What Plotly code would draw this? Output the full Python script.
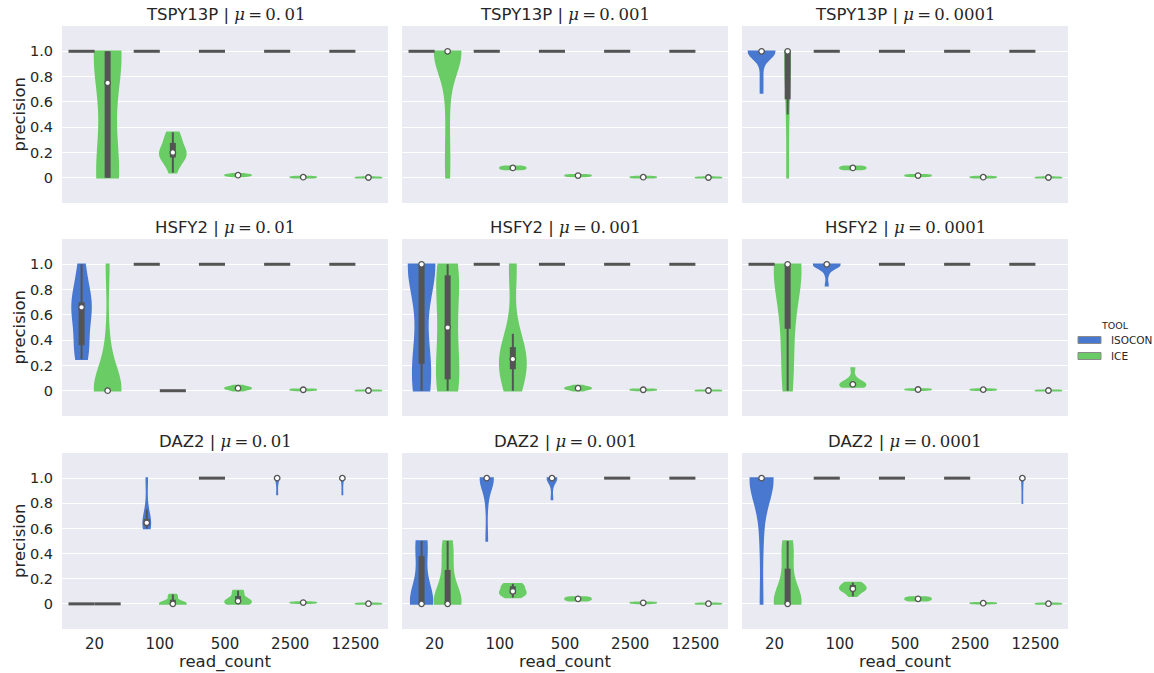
import numpy as np
import plotly.graph_objects as go

# ---------------- data ----------------
read_counts = ["20", "100", "500", "2500", "12500"]
tools = ["ISOCON", "ICE"]
genes = ["TSPY13P", "HSFY2", "DAZ2"]
mutation_rates = ["0.01", "0.001", "0.0001"]

# precision observations, one list per read_count (20, 100, 500, 2500, 12500)
tspy13p_mu01_isocon = [[1.0], [1.0], [1.0], [1.0], [1.0]]
tspy13p_mu01_ice = [
    [0.0, 0.0, 0.0, 0.0, 0.5, 1.0, 1.0, 1.0, 1.0, 1.0],
    [0.04, 0.12, 0.15, 0.17, 0.19, 0.20, 0.21, 0.25, 0.30, 0.33, 0.36],
    [0.010, 0.015, 0.018, 0.020, 0.022, 0.025, 0.030],
    [0.000, 0.002, 0.004, 0.005, 0.007, 0.010],
    [0.000, 0.000, 0.001, 0.002, 0.003, 0.005],
]
tspy13p_mu001_isocon = [[1.0], [1.0], [1.0], [1.0], [1.0]]
tspy13p_mu001_ice = [
    [0.0, 0.1, 0.3, 0.55, 0.75] + [1.0] * 16,
    [0.065, 0.070, 0.075, 0.080, 0.085, 0.090],
    [0.010, 0.013, 0.016, 0.018, 0.020, 0.024],
    [0.000, 0.002, 0.004, 0.005, 0.007, 0.010],
    [0.000, 0.000, 0.001, 0.002, 0.003, 0.005],
]
tspy13p_mu0001_isocon = [
    [0.67, 0.78, 0.90, 0.95] + [1.0] * 13,
    [1.0], [1.0], [1.0], [1.0],
]
tspy13p_mu0001_ice = [
    [0.0, 0.0, 0.5, 0.62, 0.65, 0.85] + [1.0] * 7,
    [0.065, 0.070, 0.075, 0.080, 0.085, 0.090],
    [0.010, 0.013, 0.016, 0.018, 0.020, 0.024],
    [0.000, 0.002, 0.004, 0.005, 0.007, 0.010],
    [0.000, 0.000, 0.001, 0.002, 0.003, 0.005],
]

hsfy2_mu01_isocon = [
    [0.25, 0.28, 0.33, 0.36, 0.50, 0.58, 0.66, 0.67, 0.68, 0.70, 0.78, 0.90, 1.0],
    [1.0], [1.0], [1.0], [1.0],
]
hsfy2_mu01_ice = [
    [0.0] * 10 + [0.15, 0.35, 1.0],
    [0.0],
    [0.000, 0.010, 0.015, 0.020, 0.020, 0.025, 0.030, 0.040],
    [0.002, 0.005, 0.007, 0.008, 0.010, 0.012],
    [0.000, 0.000, 0.001, 0.002, 0.003, 0.004],
]
hsfy2_mu001_isocon = [
    [0.0, 0.0, 0.05, 0.20, 0.25, 0.30] + [1.0] * 8,
    [1.0], [1.0], [1.0], [1.0],
]
hsfy2_mu001_ice = [
    [0.0, 0.0, 0.06, 0.10, 0.25, 0.45, 0.55, 0.70, 0.90, 0.95, 1.0, 1.0],
    [0.0, 0.05, 0.14, 0.18, 0.22, 0.24, 0.26, 0.28, 0.31, 0.45, 0.95, 1.0],
    [0.000, 0.010, 0.015, 0.020, 0.020, 0.025, 0.030, 0.040],
    [0.002, 0.005, 0.007, 0.008, 0.010, 0.012],
    [0.000, 0.000, 0.001, 0.002, 0.003, 0.004],
]
hsfy2_mu0001_isocon = [
    [1.0],
    [0.83, 0.93, 0.97] + [1.0] * 10,
    [1.0], [1.0], [1.0],
]
hsfy2_mu0001_ice = [
    [0.0, 0.20, 0.49, 0.70, 1.0, 1.0, 1.0, 1.0, 1.0],
    [0.030, 0.035, 0.040, 0.045, 0.050, 0.050, 0.055, 0.060, 0.100, 0.180],
    [0.004, 0.007, 0.009, 0.010, 0.011, 0.014],
    [0.004, 0.006, 0.008, 0.009, 0.010, 0.013],
    [0.000, 0.000, 0.001, 0.002, 0.003, 0.004],
]

daz2_mu01_isocon = [
    [0.0],
    [0.60, 0.61, 0.62, 0.63, 0.64, 0.65, 0.66, 0.68, 0.75, 1.0],
    [1.0],
    [0.87, 1.0, 1.0, 1.0, 1.0, 1.0, 1.0],
    [0.87, 1.0, 1.0, 1.0, 1.0, 1.0, 1.0],
]
daz2_mu01_ice = [
    [0.0],
    [0.0, 0.0, 0.0, 0.0, 0.0, 0.0, 0.01, 0.04, 0.06, 0.075],
    [0.0, 0.005, 0.01, 0.015, 0.02, 0.025, 0.04, 0.07, 0.10, 0.105],
    [0.006, 0.008, 0.010, 0.010, 0.012, 0.015],
    [0.000, 0.000, 0.001, 0.002, 0.003, 0.004],
]
daz2_mu001_isocon = [
    [0.0, 0.0, 0.0, 0.0, 0.0, 0.12, 0.38, 0.50, 0.50],
    [0.50, 0.82, 0.93] + [1.0] * 10,
    [0.83, 0.95] + [1.0] * 8,
    [1.0], [1.0],
]
daz2_mu001_ice = [
    [0.0, 0.0, 0.0, 0.0, 0.0, 0.0, 0.08, 0.20, 0.34, 0.45, 0.50],
    [0.05, 0.07, 0.08, 0.09, 0.10, 0.12, 0.14, 0.15, 0.16],
    [0.025, 0.030, 0.035, 0.040, 0.045, 0.050, 0.055],
    [0.003, 0.006, 0.008, 0.009, 0.010, 0.012],
    [0.000, 0.000, 0.001, 0.002, 0.003, 0.004],
]
daz2_mu0001_isocon = [
    [0.0, 0.5, 0.8] + [1.0] * 10,
    [1.0], [1.0], [1.0],
    [0.80, 1.0, 1.0, 1.0, 1.0, 1.0, 1.0],
]
daz2_mu0001_ice = [
    [0.0, 0.0, 0.0, 0.0, 0.0, 0.0, 0.08, 0.20, 0.36, 0.45, 0.50],
    [0.06, 0.09, 0.11, 0.12, 0.12, 0.13, 0.15, 0.16, 0.17],
    [0.025, 0.030, 0.035, 0.040, 0.045, 0.050, 0.055],
    [0.002, 0.004, 0.005, 0.006, 0.007, 0.009],
    [0.000, 0.000, 0.001, 0.002, 0.003, 0.004],
]

panels = {
    ("TSPY13P", "0.01"): (tspy13p_mu01_isocon, tspy13p_mu01_ice),
    ("TSPY13P", "0.001"): (tspy13p_mu001_isocon, tspy13p_mu001_ice),
    ("TSPY13P", "0.0001"): (tspy13p_mu0001_isocon, tspy13p_mu0001_ice),
    ("HSFY2", "0.01"): (hsfy2_mu01_isocon, hsfy2_mu01_ice),
    ("HSFY2", "0.001"): (hsfy2_mu001_isocon, hsfy2_mu001_ice),
    ("HSFY2", "0.0001"): (hsfy2_mu0001_isocon, hsfy2_mu0001_ice),
    ("DAZ2", "0.01"): (daz2_mu01_isocon, daz2_mu01_ice),
    ("DAZ2", "0.001"): (daz2_mu001_isocon, daz2_mu001_ice),
    ("DAZ2", "0.0001"): (daz2_mu0001_isocon, daz2_mu0001_ice),
}

y_tickvals = [0.0, 0.2, 0.4, 0.6, 0.8, 1.0]
y_ticktext = ["0", "0.2", "0.4", "0.6", "0.8", "1.0"]

# ---------------- style / layout ----------------
W, H = 1154, 673
COLORS = {"ISOCON": "#4878CF", "ICE": "#6ACC65"}
GRAY = "#545454"
TEXT = "#262626"
BG = "#EAEAF2"
FONT = "DejaVu Sans"
HALF = 0.2  # half width of one hue violin in category units
OFFSET = {"ISOCON": -0.2, "ICE": 0.2}

col_px = [(62, 388), (402, 728), (742, 1068)]
row_px = [(26, 203), (239, 416), (453, 629)]


def px_x(p):
    return p / W


def px_y(p):
    return 1 - p / H


def scott_bw(vals):
    return vals.std(ddof=1) * len(vals) ** -0.2


def kde_peak(vals, bw):
    grid = np.linspace(vals.min(), vals.max(), 200)
    z = (grid[:, None] - vals[None, :]) / bw
    dens = np.exp(-0.5 * z ** 2).sum(axis=1) / (len(vals) * bw * np.sqrt(2 * np.pi))
    return dens.max()


fig = go.Figure()
annotations = []
shapes = []

for r, gene in enumerate(genes):
    for c, mu in enumerate(mutation_rates):
        k = r * 3 + c + 1
        xa = "x" if k == 1 else f"x{k}"
        ya = "y" if k == 1 else f"y{k}"
        iso, ice = panels[(gene, mu)]
        single_x, single_y = [], []
        wx, wy, bx, by, mx, my = [], [], [], [], [], []
        for i in range(len(read_counts)):
            # area scaling within each read_count level (seaborn scale="area")
            entries = []
            for tool, series in (("ISOCON", iso), ("ICE", ice)):
                vals = np.asarray(series[i], dtype=float)
                if np.unique(vals).size == 1:
                    entries.append((tool, vals, None, None))
                else:
                    bw = scott_bw(vals)
                    entries.append((tool, vals, bw, kde_peak(vals, bw)))
            peaks = [e[3] for e in entries if e[3] is not None]
            max_peak = max(peaks) if peaks else 1.0
            for tool, vals, bw, peak in entries:
                pos = i + OFFSET[tool]
                if bw is None:
                    single_x += [pos - HALF, pos + HALF, None]
                    single_y += [vals[0], vals[0], None]
                    continue
                fig.add_trace(go.Violin(
                    x0=pos, y=vals, width=2 * HALF * peak / max_peak,
                    scalemode="width", spanmode="hard", bandwidth=bw,
                    fillcolor=COLORS[tool],
                    line=dict(color=COLORS[tool], width=1.6),
                    points=False, box_visible=False, meanline_visible=False,
                    showlegend=False, hoverinfo="skip", orientation="v",
                    xaxis=xa, yaxis=ya,
                ))
                q25, q50, q75 = np.percentile(vals, [25, 50, 75])
                lim = 1.5 * (q75 - q25)
                h1 = vals[vals >= q25 - lim].min()
                h2 = vals[vals <= q75 + lim].max()
                if h2 > h1:
                    wx += [pos, pos, None]
                    wy += [h1, h2, None]
                if q75 > q25:
                    bx += [pos, pos, None]
                    by += [q25, q75, None]
                mx.append(pos)
                my.append(q50)
        fig.add_trace(go.Scatter(x=single_x, y=single_y, mode="lines",
                                 line=dict(color=GRAY, width=3),
                                 showlegend=False, hoverinfo="skip",
                                 xaxis=xa, yaxis=ya))
        fig.add_trace(go.Scatter(x=wx, y=wy, mode="lines",
                                 line=dict(color=GRAY, width=2),
                                 showlegend=False, hoverinfo="skip",
                                 xaxis=xa, yaxis=ya))
        fig.add_trace(go.Scatter(x=bx, y=by, mode="lines",
                                 line=dict(color=GRAY, width=6),
                                 showlegend=False, hoverinfo="skip",
                                 xaxis=xa, yaxis=ya))
        fig.add_trace(go.Scatter(x=mx, y=my, mode="markers",
                                 marker=dict(color="white", size=5.5,
                                             line=dict(color=GRAY, width=1.3)),
                                 showlegend=False, hoverinfo="skip",
                                 xaxis=xa, yaxis=ya))

        x0p, x1p = col_px[c]
        y0p, y1p = row_px[r]
        xname = "xaxis" if k == 1 else f"xaxis{k}"
        yname = "yaxis" if k == 1 else f"yaxis{k}"
        fig.layout[xname] = dict(
            domain=[px_x(x0p), px_x(x1p)], anchor=ya, type="linear",
            range=[-0.5, len(read_counts) - 0.5],
            tickvals=list(range(len(read_counts))), ticktext=read_counts,
            showticklabels=(r == 2), showgrid=False, zeroline=False,
            ticks="outside" if r == 2 else "", ticklen=1,
            tickcolor="rgba(0,0,0,0)",
            tickfont=dict(family=FONT, size=15, color=TEXT),
            showline=False,
        )
        fig.layout[yname] = dict(
            domain=[px_y(y1p), px_y(y0p)], anchor=xa, type="linear",
            range=[-0.2, 1.2], tickvals=y_tickvals, ticktext=y_ticktext,
            showticklabels=(c == 0), showgrid=True, gridcolor="white",
            gridwidth=1.3, zeroline=False,
            ticks="outside" if c == 0 else "", ticklen=5,
            tickcolor="rgba(0,0,0,0)",
            tickfont=dict(family=FONT, size=14.5, color=TEXT),
            showline=False,
        )
        shapes.append(dict(type="rect", xref="paper", yref="paper",
                           x0=px_x(x0p), x1=px_x(x1p), y0=px_y(y1p), y1=px_y(y0p),
                           fillcolor=BG, line=dict(width=0), layer="below"))
        # panel title
        mu_txt = mu.replace("0.", "0.\u2009", 1)
        annotations.append(dict(
            text=(f"{gene} | <span style='font-family:DejaVu Serif'>"
                  f"<i>\u03bc</i>\u2009=\u2009{mu_txt}</span>"),
            x=px_x((x0p + x1p) / 2), y=px_y(y0p - 12), xref="paper", yref="paper",
            xanchor="center", yanchor="middle", showarrow=False,
            font=dict(family=FONT, size=16.5, color=TEXT)))
        if c == 0:
            annotations.append(dict(
                text="precision", textangle=-90,
                x=px_x(19), y=px_y((y0p + y1p) / 2), xref="paper", yref="paper",
                xanchor="center", yanchor="middle", showarrow=False,
                font=dict(family=FONT, size=16.5, color=TEXT)))
        if r == 2:
            annotations.append(dict(
                text="read_count",
                x=px_x((x0p + x1p) / 2), y=px_y(662), xref="paper", yref="paper",
                xanchor="center", yanchor="middle", showarrow=False,
                font=dict(family=FONT, size=16.5, color=TEXT)))

# legend (drawn manually, seaborn style)
annotations.append(dict(text="TOOL", x=px_x(1115), y=px_y(325), xref="paper", yref="paper",
                        xanchor="center", yanchor="middle", showarrow=False,
                        font=dict(family=FONT, size=9.5, color=TEXT)))
for j, tool in enumerate(tools):
    yc = 340 + 16 * j
    shapes.append(dict(type="rect", xref="paper", yref="paper",
                       x0=px_x(1078), x1=px_x(1101), y0=px_y(yc + 3.5), y1=px_y(yc - 3.5),
                       fillcolor=COLORS[tool], line=dict(color="#8a8a8a", width=1)))
    annotations.append(dict(text=tool, x=px_x(1109), y=px_y(yc), xref="paper", yref="paper",
                            xanchor="left", yanchor="middle", showarrow=False,
                            font=dict(family=FONT, size=10.5, color=TEXT)))

fig.update_layout(
    width=W, height=H, margin=dict(l=0, r=0, t=0, b=0),
    paper_bgcolor="white", plot_bgcolor="rgba(0,0,0,0)",
    showlegend=False, violinmode="overlay",
    shapes=shapes, annotations=annotations,
    font=dict(family=FONT, color=TEXT),
)

fig.write_html("out.html")
